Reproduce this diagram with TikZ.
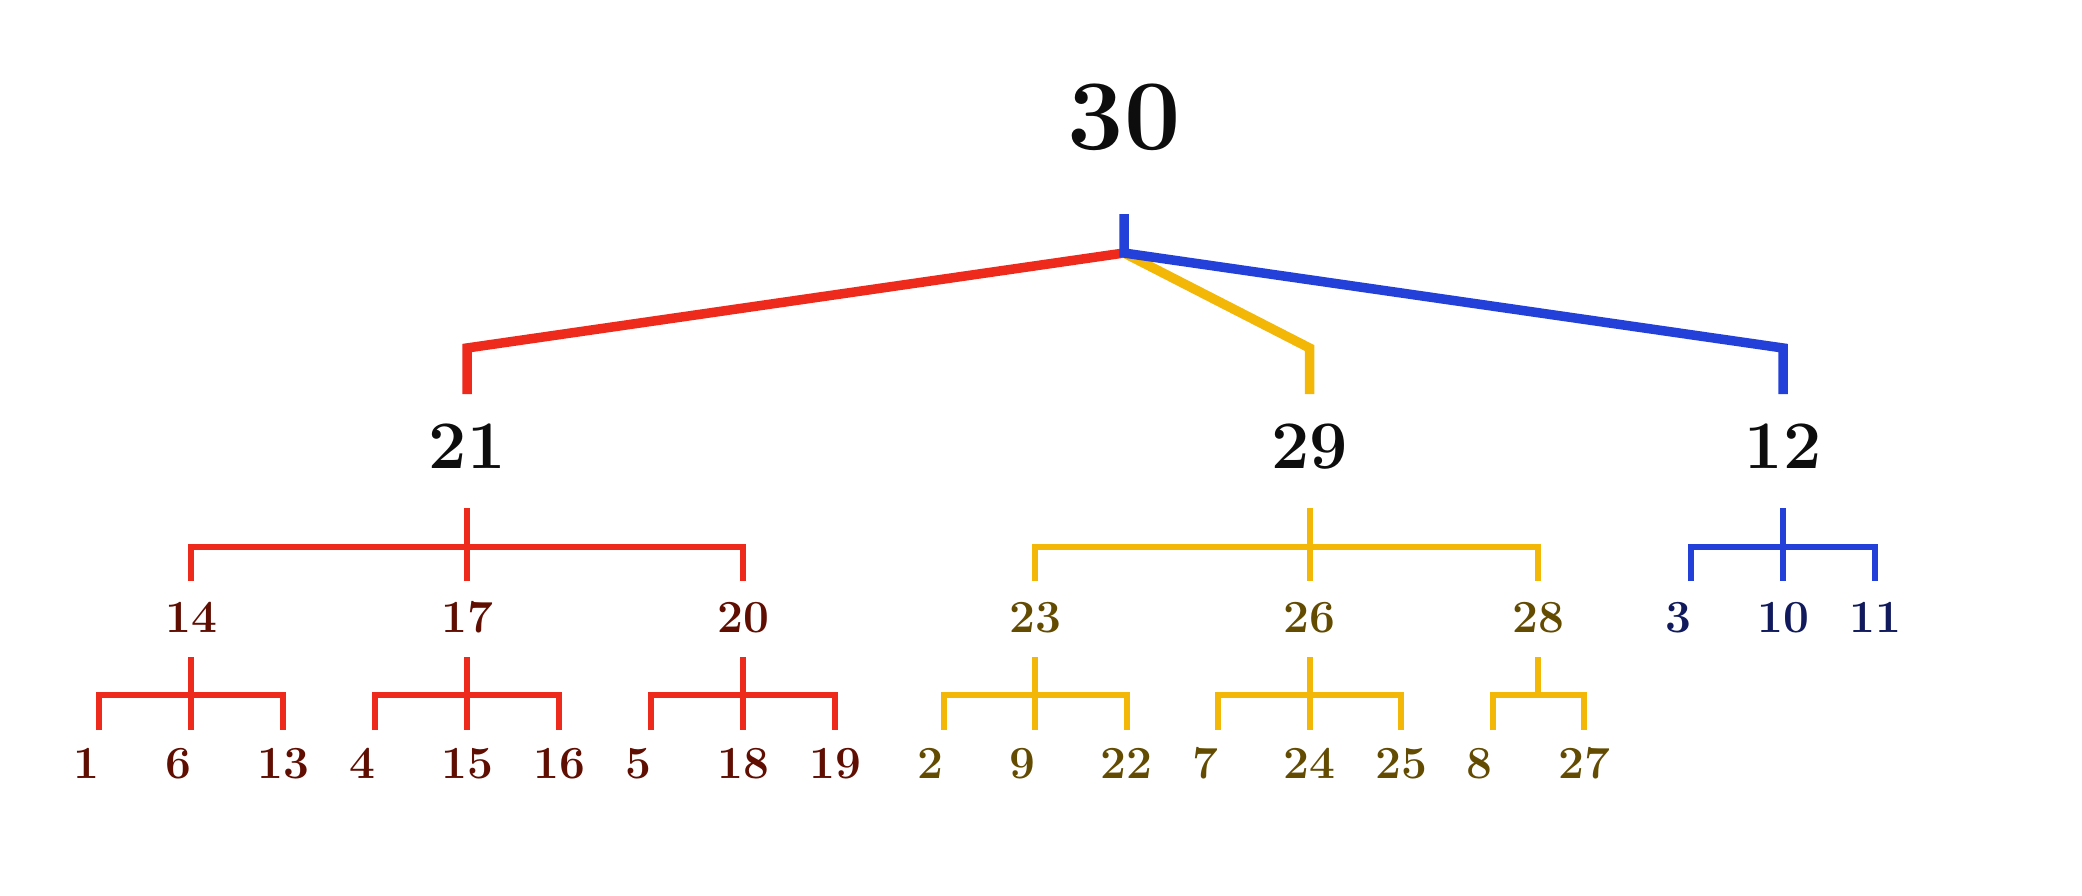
\documentclass[tikz,border=0pt]{standalone}
\usepackage{fontspec}
\usetikzlibrary{calc}
\definecolor{cred}{RGB}{238,42,28}
\definecolor{cyel}{RGB}{242,183,7}
\definecolor{cblu}{RGB}{35,64,216}
\definecolor{tred}{RGB}{96,14,2}
\definecolor{tyel}{RGB}{99,76,2}
\definecolor{tblu}{RGB}{16,26,92}
\definecolor{tblk}{RGB}{13,13,13}
\begin{document}
\begin{tikzpicture}[x=0.5pt,y=-0.5pt,
  topline/.style={line width=4.75pt},
  brline/.style={line width=3pt},
  lab/.style={inner sep=0pt, anchor=base},
  biglab/.style={lab, font=\fontsize{50}{50}\selectfont\bfseries, text=tblk},
  midlab/.style={lab, font=\fontsize{34}{34}\selectfont\bfseries, text=tblk},
  smlab/.style={lab, font=\fontsize{23}{23}\selectfont\bfseries},
  rl/.style={smlab, text=tred},
  yl/.style={smlab, text=tyel},
  bl/.style={smlab, text=tblu}]
\useasboundingbox (0,0) rectangle (2082,895);
% level guide coordinates
\coordinate (rt) at (0,214);
\coordinate (rj) at (0,253);
\coordinate (c1) at (0,348);
\coordinate (d1) at (0,394);
\coordinate (t2) at (0,508);
\coordinate (b2) at (0,546.5);
\coordinate (e2) at (0,581);
\coordinate (t3) at (0,657);
\coordinate (b3) at (0,695);
\coordinate (e3) at (0,730);
% labels
\node[biglab] (n30) at (1124,149) {30};
\node[midlab] (n21) at (467,468) {21};
\node[midlab] (n29) at (1309.5,468) {29};
\node[midlab] (n12) at (1783,468) {12};
\node[rl] (n14) at (191,632) {14};
\node[rl] (n17) at (467,632) {17};
\node[rl] (n20) at (743,632) {20};
\node[yl] (n23) at (1035,632) {23};
\node[yl] (n26) at (1309.5,632) {26};
\node[yl] (n28) at (1538.25,632) {28};
\node[bl] (n3) at (1691,632) {3\phantom{0}};
\node[bl] (n10) at (1783,632) {10};
\node[bl] (n11) at (1875,632) {11};
\node[rl] (l1) at (99,778) {1\phantom{0}};
\node[rl] (l6) at (191,778) {6\phantom{0}};
\node[rl] (l13) at (283,778) {13};
\node[rl] (l4) at (375,778) {4\phantom{0}};
\node[rl] (l15) at (467,778) {15};
\node[rl] (l16) at (559,778) {16};
\node[rl] (l5) at (651,778) {5\phantom{0}};
\node[rl] (l18) at (743,778) {18};
\node[rl] (l19) at (835,778) {19};
\node[yl] (l2) at (943.5,778) {2\phantom{0}};
\node[yl] (l9) at (1035,778) {9\phantom{0}};
\node[yl] (l22) at (1126.5,778) {22};
\node[yl] (l7) at (1218,778) {7\phantom{0}};
\node[yl] (l24) at (1309.5,778) {24};
\node[yl] (l25) at (1401,778) {25};
\node[yl] (l8) at (1492.5,778) {8\phantom{0}};
\node[yl] (l27) at (1584,778) {27};
% top connectors
\draw[topline,cred] (n30 |- rj) -- (n21 |- c1) -- (n21 |- d1);
\draw[topline,cyel] (n30 |- rj) -- (n29 |- c1) -- (n29 |- d1);
\draw[topline,cblu] (n30 |- rt) -- (n30 |- rj) -- (n12 |- c1) -- (n12 |- d1);
% level 2 brackets
\draw[brline,cred] (n14 |- e2) |- (n20 |- b2) -- (n20 |- e2);
\draw[brline,cred] (n21 |- t2) -- (n17 |- e2);
\draw[brline,cyel] (n23 |- e2) |- (n28 |- b2) -- (n28 |- e2);
\draw[brline,cyel] (n29 |- t2) -- (n26 |- e2);
\draw[brline,cblu] (n3 |- e2) |- (n11 |- b2) -- (n11 |- e2);
\draw[brline,cblu] (n12 |- t2) -- (n10 |- e2);
% level 3 brackets
\draw[brline,cred] (l1 |- e3) |- (l13 |- b3) -- (l13 |- e3);
\draw[brline,cred] (n14 |- t3) -- (l6 |- e3);
\draw[brline,cred] (l4 |- e3) |- (l16 |- b3) -- (l16 |- e3);
\draw[brline,cred] (n17 |- t3) -- (l15 |- e3);
\draw[brline,cred] (l5 |- e3) |- (l19 |- b3) -- (l19 |- e3);
\draw[brline,cred] (n20 |- t3) -- (l18 |- e3);
\draw[brline,cyel] (l2 |- e3) |- (l22 |- b3) -- (l22 |- e3);
\draw[brline,cyel] (n23 |- t3) -- (l9 |- e3);
\draw[brline,cyel] (l7 |- e3) |- (l25 |- b3) -- (l25 |- e3);
\draw[brline,cyel] (n26 |- t3) -- (l24 |- e3);
\draw[brline,cyel] (l8 |- e3) |- (l27 |- b3) -- (l27 |- e3);
\draw[brline,cyel] (n28 |- t3) -- (n28 |- b3);
\end{tikzpicture}
\end{document}
